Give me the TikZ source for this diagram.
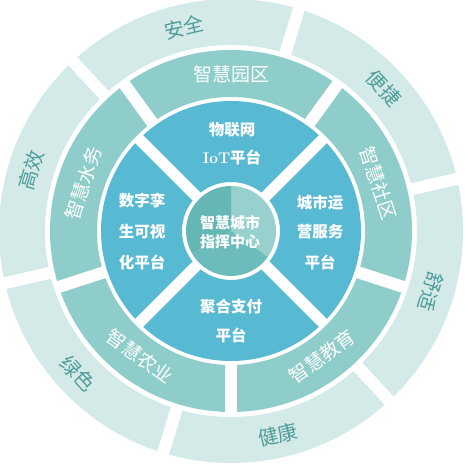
\documentclass[tikz,border=0pt]{standalone}
\usepackage{fontspec}
\newfontfamily\cjk{Noto Sans CJK SC}
\definecolor{outerc}{HTML}{D3EAE9}
\definecolor{midc}{HTML}{8FCDCA}
\definecolor{innc}{HTML}{58B9D2}
\definecolor{ctrlight}{HTML}{97D0CC}
\definecolor{ctrdark}{HTML}{65B7B5}
\definecolor{ctrmid}{HTML}{6BBCBA}
\definecolor{outtxt}{HTML}{4F9C9A}
\begin{document}
\begin{tikzpicture}[x=1pt,y=1pt,
  outerlbl/.style={font=\cjk\fontsize{20}{20}\selectfont, text=outtxt, inner sep=0pt},
  midlbl/.style={font=\cjk\fontsize{19}{19}\selectfont, text=white, inner sep=0pt},
  innlbl/.style={font=\cjk\bfseries\fontsize{15.5}{15.5}\selectfont, text=white, inner sep=0pt},
  ctrlbl/.style={font=\cjk\bfseries\fontsize{15}{15}\selectfont, text=white, inner sep=0pt},
  gapline/.style={white, line width=12pt},
]
\useasboundingbox (0,0) rectangle (465,465);
\begin{scope}[shift={(231,234)}]
  % outer ring
  \fill[outerc, even odd rule] (0,0) circle[radius=232] (0,0) circle[radius=186];
  \foreach \a in {13,73,133,193,253,313} \draw[gapline] (0,0) -- (\a:245);
  % middle ring
  \fill[midc, even odd rule] (0,0) circle[radius=181] (0,0) circle[radius=134];
  \foreach \a in {54,126,198,270,342} \draw[gapline] (0,0) -- (\a:184);
  % inner ring
  \fill[innc, even odd rule] (0,0) circle[radius=130] (0,0) circle[radius=49];
  \foreach \a in {45,135,225,315} \draw[gapline, line width=11pt] (0,0) -- (\a:132);
  % centre circle
  \fill[ctrlight] (0,0) -- (90:45) arc[start angle=90, end angle=-35, radius=45] -- cycle;
  \fill[ctrdark] (0,0) -- (90:45) arc[start angle=90, end angle=210, radius=45] -- cycle;
  \fill[ctrmid] (0,0) -- (210:45) arc[start angle=210, end angle=325, radius=45] -- cycle;

  % outer labels
  \node[outerlbl, rotate=13]  (anquan)  at (103:209) {安全};
  \node[outerlbl, rotate=-47] (bianjie) at (43:209)  {便捷};
  \node[outerlbl, rotate=253] (shushi)  at (343:209) {舒适};
  \node[outerlbl, rotate=13]  (jiankang) at (283:209) {健康};
  \node[outerlbl, rotate=-47] (lvse)    at (223:209) {绿色};
  \node[outerlbl, rotate=73]  (gaoxiao) at (163:209) {高效};

  % middle labels
  \node[midlbl] (yuanqu) at (90:157) {智慧园区};
  \node[midlbl, rotate=-72] (shequ) at (18:155) {智慧社区};
  \node[midlbl, rotate=36]  (jiaoyu) at (306:155) {智慧教育};
  \node[midlbl, rotate=-36] (nongye) at (234:155) {智慧农业};
  \node[midlbl, rotate=72]  (shuiwu) at (162:155) {智慧水务};

  % inner labels
  \node[innlbl] (iotA) at (1,101) {物联网};
  \node[innlbl] (iotB) at (1,74) {{\rmfamily\bfseries IoT}平台};
  \node[innlbl] (yyA) at (89,28) {城市运};
  \node[innlbl] (yyB) at (89,-1) {营服务};
  \node[innlbl] (yyC) at (89,-31) {平台};
  \node[innlbl] (szA) at (-89,30) {数字孪};
  \node[innlbl] (szB) at (-89,-1) {生可视};
  \node[innlbl] (szC) at (-89,-31) {化平台};
  \node[innlbl] (zfA) at (0,-76) {聚合支付};
  \node[innlbl] (zfB) at (0,-104) {平台};

  % centre labels
  \node[ctrlbl] (ctrA) at (-1,8) {智慧城市};
  \node[ctrlbl] (ctrB) at (-1,-11) {指挥中心};
\end{scope}
\end{tikzpicture}
\end{document}
